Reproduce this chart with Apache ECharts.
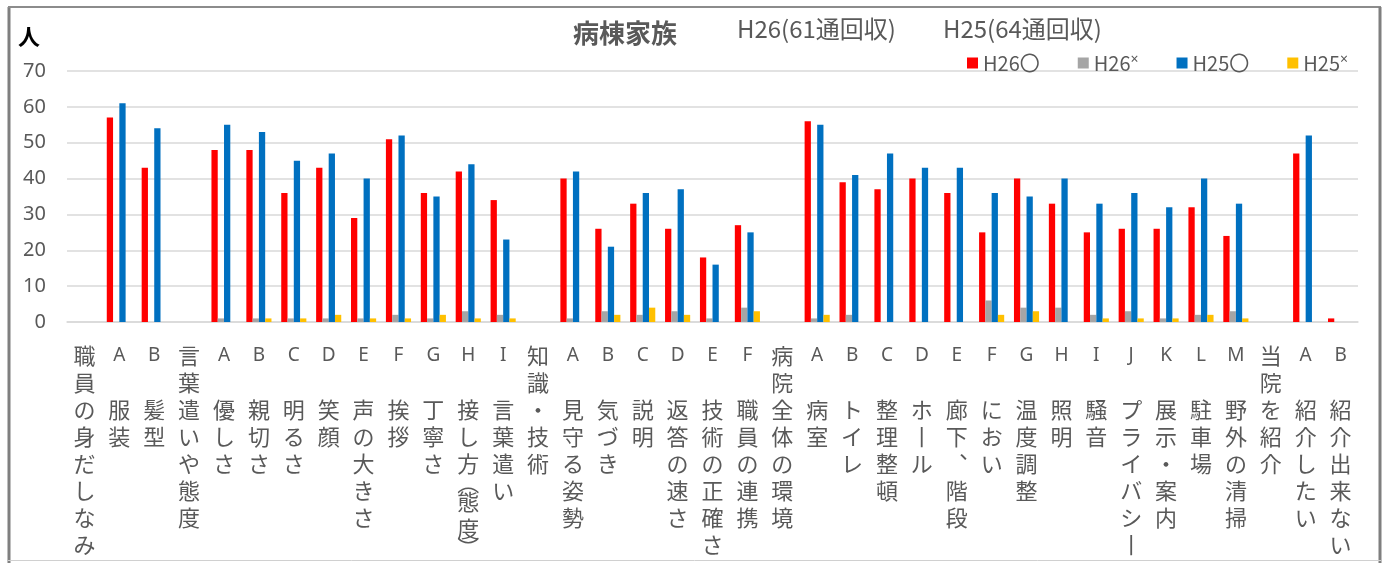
<!DOCTYPE html>
<html>
<head>
<meta charset="utf-8">
<script src="https://cdn.jsdelivr.net/npm/echarts@6.0.0/dist/echarts.min.js"></script>
<style>
  html, body { margin: 0; padding: 0; background: #fff; }
  #chart { width: 1386px; height: 563px; }
</style>
</head>
<body>
<div id="chart"></div>
<script>
// 項目（記号と名称）
var letters = ['', 'A', 'B', '', 'A', 'B', 'C', 'D', 'E', 'F', 'G', 'H', 'I', '', 'A', 'B', 'C', 'D', 'E', 'F', '', 'A', 'B', 'C', 'D', 'E', 'F', 'G', 'H', 'I', 'J', 'K', 'L', 'M', '', 'A', 'B'];
var names = ['職員の身だしなみ', '服装', '髪型', '言葉遣いや態度', '優しさ', '親切さ', '明るさ', '笑顔', '声の大きさ', '挨拶', '丁寧さ', '接し方(態度)', '言葉遣い', '知識・技術', '見守る姿勢', '気づき', '説明', '返答の速さ', '技術の正確さ', '職員の連携', '病院全体の環境', '病室', 'トイレ', '整理整頓', 'ホール', '廊下、階段', 'におい', '温度調整', '照明', '騒音', 'プライバシー', '展示・案内', '駐車場', '野外の清掃', '当院を紹介', '紹介したい', '紹介出来ない'];

var seriesNames = ['H26〇', 'H26×', 'H25〇', 'H25×'];
var h26o = [0, 57, 43, 0, 48, 48, 36, 43, 29, 51, 36, 42, 34, 0, 40, 26, 33, 26, 18, 27, 0, 56, 39, 37, 40, 36, 25, 40, 33, 25, 26, 26, 32, 24, 0, 47, 1];
var h26x = [0, 0, 0, 0, 1, 1, 1, 1, 1, 2, 1, 3, 2, 0, 1, 3, 2, 3, 1, 4, 0, 1, 2, 0, 0, 0, 6, 4, 4, 2, 3, 1, 2, 3, 0, 0, 0];
var h25o = [0, 61, 54, 0, 55, 53, 45, 47, 40, 52, 35, 44, 23, 0, 42, 21, 36, 37, 16, 25, 0, 55, 41, 47, 43, 43, 36, 35, 40, 33, 36, 32, 40, 33, 0, 52, 0];
var h25x = [0, 0, 0, 0, 0, 1, 1, 2, 1, 1, 2, 1, 1, 0, 0, 2, 4, 2, 0, 3, 0, 2, 0, 0, 0, 0, 2, 3, 0, 1, 1, 1, 2, 1, 0, 0, 0];
var yTicks = [0, 10, 20, 30, 40, 50, 60, 70];

var colors = ['#FF0000', '#A5A5A5', '#0070C0', '#FFC000'];
var gray = '#595959';

// 縦書き用の置き換え（括弧は半分の高さ）
var vmap = { 'ー': '丨', '、': '︑' };
function vertical(s) {
    return Array.from(s).map(function (ch) {
        if (ch === '(') return '{p|︵}';
        if (ch === ')') return '{p|︶}';
        return vmap[ch] || ch;
    }).join('\n');
}

var chart = echarts.init(document.getElementById('chart'));

var option = {
    animation: false,
    color: colors,
    textStyle: { fontFamily: 'Noto Sans CJK JP' },
    title: {
        text: '病棟家族',
        left: 568,
        top: 15,
        textStyle: { fontSize: 26, fontWeight: 'bold', color: gray, fontFamily: 'Noto Sans CJK JP' }
    },
    legend: {
        data: seriesNames,
        left: 962,
        top: 48,
        icon: 'rect',
        itemWidth: 11,
        itemHeight: 11,
        itemGap: 38,
        formatter: function (n) {
            return n.replace('×', '{s|×}');
        },
        textStyle: {
            fontSize: 20, color: gray, fontFamily: 'Noto Sans CJK JP',
            rich: { s: { fontSize: 14, color: gray, fontFamily: 'Noto Sans', verticalAlign: 'top', padding: [0, 0, 6, 0] } }
        }
    },
    grid: {
        left: 67,
        right: 28,
        top: 71,
        bottom: 241,
        containLabel: false,
        outerBoundsMode: 'none'
    },
    xAxis: {
        type: 'category',
        data: names,
        axisTick: { show: false },
        axisLine: { lineStyle: { color: '#d9d9d9', width: 1.5 } },
        axisLabel: {
            interval: 0,
            margin: 20,
            fontSize: 22,
            lineHeight: 27,
            color: gray,
            fontFamily: 'Noto Sans CJK JP',
            formatter: function (value, idx) {
                var l = letters[idx];
                var v = vertical(value);
                return l ? '{l|' + l + '}\n \n' + v : v;
            },
            rich: {
                l: { fontSize: 19, lineHeight: 27, color: gray, fontFamily: 'Noto Sans' },
                p: { fontSize: 22, lineHeight: 11, color: gray, fontFamily: 'Noto Sans CJK JP' }
            }
        }
    },
    yAxis: {
        type: 'value',
        min: yTicks[0],
        max: yTicks[yTicks.length - 1],
        interval: 10,
        axisLine: { show: false },
        axisTick: { show: false },
        axisLabel: { fontSize: 20, color: gray, margin: 21, fontFamily: 'Noto Sans' },
        splitLine: { lineStyle: { color: '#d9d9d9', width: 1.5 } }
    },
    graphic: [
        { type: 'line', shape: { x1: 9, y1: 7, x2: 9, y2: 563 }, style: { stroke: '#7f7f7f', lineWidth: 3 } },
        { type: 'line', shape: { x1: 8, y1: 7, x2: 1381, y2: 7 }, style: { stroke: '#8c8c8c', lineWidth: 2 } },
        { type: 'line', shape: { x1: 1380, y1: 7, x2: 1380, y2: 563 }, style: { stroke: '#7f7f7f', lineWidth: 3 } },
        { type: 'line', shape: { x1: 8, y1: 560.5, x2: 1381, y2: 560.5 }, style: { stroke: '#d0d0d0', lineWidth: 1 } },
        { type: 'text', left: 18, top: 26, style: { text: '人', fontSize: 22, fontWeight: 'bold', fill: '#000', fontFamily: 'Noto Sans CJK JP' } },
        { type: 'text', left: 737, top: 17, style: { text: 'H26(61通回収)', fontSize: 24, fill: gray, fontFamily: 'Noto Sans CJK JP' } },
        { type: 'text', left: 943, top: 17, style: { text: 'H25(64通回収)', fontSize: 24, fill: gray, fontFamily: 'Noto Sans CJK JP' } }
    ],
    series: [
        { name: seriesNames[0], type: 'bar', data: h26o, barGap: '0%', barCategoryGap: '28%' },
        { name: seriesNames[1], type: 'bar', data: h26x, barGap: '0%', barCategoryGap: '28%' },
        { name: seriesNames[2], type: 'bar', data: h25o, barGap: '0%', barCategoryGap: '28%' },
        { name: seriesNames[3], type: 'bar', data: h25x, barGap: '0%', barCategoryGap: '28%' }
    ]
};

chart.setOption(option);
</script>
</body>
</html>
